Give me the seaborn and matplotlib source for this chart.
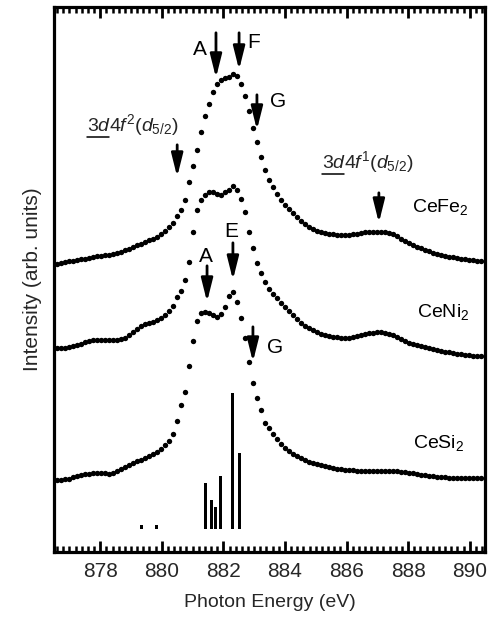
import matplotlib
matplotlib.use("Agg")
import matplotlib.pyplot as plt
import seaborn as sns
import pandas as pd
from matplotlib.ticker import MultipleLocator, FixedLocator

# ---------------- data ----------------
energy = [
    876.60, 876.73, 876.86, 876.99, 877.12, 877.25, 877.38, 877.51, 877.64, 877.77,
    877.90, 878.03, 878.16, 878.29, 878.42, 878.55, 878.68, 878.81, 878.94, 879.07,
    879.20, 879.33, 879.46, 879.59, 879.72, 879.85, 879.98, 880.11, 880.24, 880.37,
    880.50, 880.63, 880.76, 880.89, 881.02, 881.15, 881.28, 881.41, 881.54, 881.67,
    881.80, 881.93, 882.06, 882.19, 882.32, 882.45, 882.58, 882.71, 882.84, 882.97,
    883.10, 883.23, 883.36, 883.49, 883.62, 883.75, 883.88, 884.01, 884.14, 884.27,
    884.40, 884.53, 884.66, 884.79, 884.92, 885.05, 885.18, 885.31, 885.44, 885.57,
    885.70, 885.83, 885.96, 886.09, 886.22, 886.35, 886.48, 886.61, 886.74, 886.87,
    887.00, 887.13, 887.26, 887.39, 887.52, 887.65, 887.78, 887.91, 888.04, 888.17,
    888.30, 888.43, 888.56, 888.69, 888.82, 888.95, 889.08, 889.21, 889.34, 889.47,
    889.60, 889.73, 889.86, 889.99, 890.12, 890.25, 890.38,
]

cefe2 = [
    288, 289, 290, 291, 291, 292, 293, 293, 294, 295,
    296, 296, 297, 297, 298, 299, 300, 302, 303, 305,
    307, 308, 310, 312, 313, 315, 318, 321, 325, 329,
    336, 342, 352, 370, 386, 402, 420, 436, 448, 460,
    468, 472, 474, 475, 478, 476, 468, 456, 441, 424,
    410, 395, 382, 372, 365, 358, 352, 347, 343, 339,
    335, 331, 328, 325, 323, 321, 320, 319, 318, 318,
    317, 317, 317, 317, 318, 318, 319, 320, 320, 320,
    320, 320, 320, 319, 318, 316, 313, 311, 309, 307,
    305, 304, 302, 301, 299, 298, 297, 296, 295, 295,
    294, 293, 293, 292, 292, 291, 291,
]

ceni2 = [
    204, 204, 204, 205, 206, 207, 208, 210, 211, 212,
    212, 212, 212, 212, 212, 212, 213, 214, 217, 220,
    223, 226, 228, 229, 230, 232, 234, 237, 241, 246,
    255, 261, 272, 290, 320, 342, 352, 357, 360, 360,
    358, 357, 360, 362, 366, 362, 353, 340, 320, 304,
    289, 279, 270, 263, 258, 254, 249, 245, 241, 237,
    233, 229, 226, 224, 222, 220, 218, 217, 216, 215,
    215, 214, 214, 214, 215, 216, 217, 218, 219, 219,
    220, 220, 219, 218, 217, 215, 213, 211, 209, 208,
    207, 206, 205, 204, 203, 202, 201, 200, 200, 199,
    198, 198, 197, 197, 196, 196, 196,
]

cesi2 = [
    72, 72, 73, 73, 75, 76, 77, 78, 78, 79,
    79, 79, 79, 78, 79, 81, 83, 85, 87, 89,
    91, 92, 94, 96, 98, 100, 103, 107, 111, 118,
    131, 147, 160, 186, 211, 231, 239, 240, 239, 237,
    235, 238, 245, 256, 260, 250, 234, 214, 190, 169,
    154, 142, 129, 124, 118, 113, 108, 104, 101, 98,
    96, 94, 92, 90, 89, 88, 87, 86, 85, 84,
    83, 83, 82, 82, 82, 81, 81, 81, 81, 81,
    81, 81, 81, 81, 81, 81, 80, 80, 79, 79,
    78, 77, 77, 76, 76, 75, 75, 75, 74, 74,
    74, 74, 74, 74, 74, 74, 74,
]

# calculated multiplet lines (stick spectrum)
stick_energy = [879.33, 879.82, 881.41, 881.60, 881.73, 881.92, 882.31, 882.51]
stick_height = [4, 4, 46, 29, 22, 53, 136, 76]
stick_base = 23

xticks = [878, 880, 882, 884, 886, 888, 890]

# ---------------- style ----------------
sns.set_style("ticks")
plt.rcParams["font.family"] = ["Liberation Sans", "DejaVu Sans"]
plt.rcParams["mathtext.fontset"] = "custom"
plt.rcParams["mathtext.rm"] = "Liberation Sans"
plt.rcParams["mathtext.it"] = "Liberation Sans:italic"
plt.rcParams["mathtext.bf"] = "Liberation Sans:bold"

fig = plt.figure(figsize=(4.91, 6.18), dpi=100)
ax = fig.add_axes([0.110, 0.107, 0.878, 0.882])

frames = []
for name, vals in [("CeFe2", cefe2), ("CeNi2", ceni2), ("CeSi2", cesi2)]:
    frames.append(pd.DataFrame({"energy": energy, "intensity": vals, "sample": name}))
df = pd.concat(frames, ignore_index=True)

sns.scatterplot(data=df, x="energy", y="intensity", color="black", s=15,
                linewidth=0, legend=False, ax=ax, zorder=3)

ax.bar(stick_energy, stick_height, width=0.1, bottom=stick_base,
       color="black", linewidth=0, zorder=2)

ax.set_xlim(876.5, 890.5)
ax.set_ylim(0, 545)
ax.xaxis.set_major_locator(FixedLocator(xticks))
ax.xaxis.set_minor_locator(MultipleLocator(0.2))
ax.set_yticks([])
ax.tick_params(axis="x", which="major", direction="in", top=True, bottom=True,
               length=8, width=2, labelsize=15, pad=7, color="black")
ax.tick_params(axis="x", which="minor", direction="in", top=True, bottom=True,
               length=4, width=1.8, color="black")
for sp in ax.spines.values():
    sp.set_visible(True)
    sp.set_linewidth(2.3)
    sp.set_color("black")

ax.set_xlabel("Photon Energy (eV)", fontsize=14, labelpad=10)
ax.set_ylabel("Intensity (arb. units)", fontsize=15, labelpad=9)

# ---------------- annotations ----------------
def arrow(x, y_top, y_tip):
    ax.annotate("", xy=(x, y_tip), xytext=(x, y_top),
                arrowprops=dict(arrowstyle="-|>,head_length=1.4,head_width=0.35",
                                lw=2, color="black", shrinkA=0, shrinkB=0,
                                mutation_scale=10))

arrow(881.76, 519, 474)   # A (top)
arrow(882.51, 519, 482)   # F
arrow(883.09, 457, 422)   # G (top)
arrow(880.50, 407, 375)   # 3d4f2
arrow(887.05, 359, 329)   # 3d4f1
arrow(881.47, 286, 250)   # A (lower)
arrow(882.31, 309, 272)   # E
arrow(882.96, 225, 190)   # G (lower)

letter_kw = dict(fontsize=15, ha="center", va="center", color="black")
ax.text(881.24, 502, "A", **letter_kw)
ax.text(882.98, 509, "F", **letter_kw)
ax.text(883.77, 450, "G", **letter_kw)
ax.text(881.44, 295, "A", **letter_kw)
ax.text(882.25, 320, "E", **letter_kw)
ax.text(883.68, 204, "G", **letter_kw)

name_kw = dict(fontsize=14, ha="left", va="center", color="black")
ax.text(888.12, 345, r"CeFe$_2$", **name_kw)
ax.text(888.28, 240, r"CeNi$_2$", **name_kw)
ax.text(888.15, 109, r"CeSi$_2$", **name_kw)


def config_label(x, y, sup):
    t1 = ax.text(x, y, r"$\mathit{3d}$", fontsize=14, ha="left", va="baseline")
    fig.canvas.draw()
    r = fig.canvas.get_renderer()
    bb = t1.get_window_extent(renderer=r)
    inv = ax.transData.inverted()
    x_end = inv.transform((bb.x1 - 2, bb.y0))[0]
    x0d, y0d = inv.transform((bb.x0, bb.y0 - 2))
    ax.plot([x0d, x_end], [y0d, y0d], color="black", lw=1.1)
    ax.text(x_end, y, r"$\mathit{4f}^{\mathit{%s}}(\mathit{d}_{\mathit{5/2}})$" % sup,
            fontsize=14, ha="left", va="baseline")

config_label(877.58, 421, "2")
config_label(885.20, 384, "1")

fig.savefig("out.png", dpi=100)
